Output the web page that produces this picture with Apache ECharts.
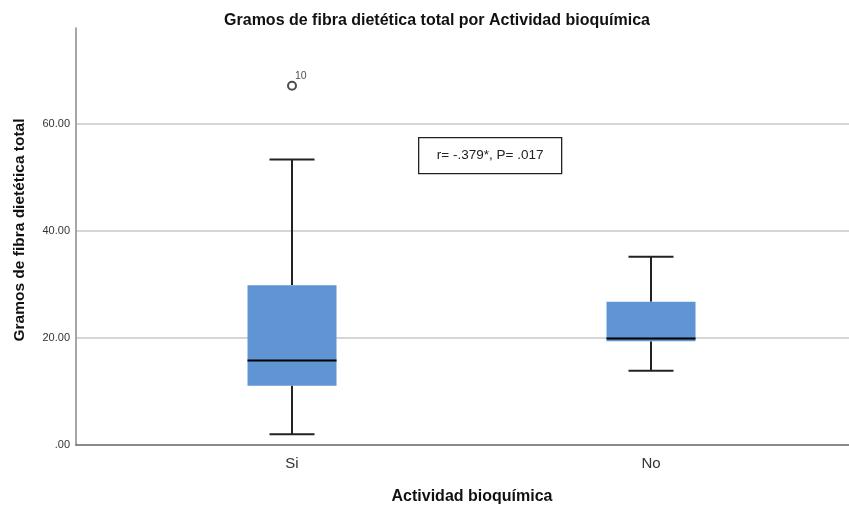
<!DOCTYPE html>
<html><head><meta charset="utf-8">
<script src="https://cdn.jsdelivr.net/npm/echarts@6/dist/echarts.min.js"></script>
<style>html,body{margin:0;padding:0;background:#fff}#c{width:849px;height:505px}</style>
</head><body><div id="c"></div>
<script>
const categories = ['Si', 'No'];
const categoryPos = [1, 2];
// [min whisker, Q1, median, Q3, max whisker]
const siStats = [2.0, 11.1, 15.8, 29.9, 53.4];
const noStats = [13.9, 19.4, 19.9, 26.8, 35.2];
const outliers = [[1, 67.2, '10']];
const yTicks = [0, 20, 40, 60];
const annotation = 'r= -.379*, P= .017';
const yTitle = 'Gramos de fibra dietética total';
const xTitle = 'Actividad bioquímica';
const mainTitle = 'Gramos de fibra dietética total por Actividad bioquímica';

const boxData = [[categoryPos[0]].concat(siStats), [categoryPos[1]].concat(noStats)];

const chart = echarts.init(document.getElementById('c'));
const FONT = 'Liberation Sans, Arial, sans-serif';
chart.setOption({
  animation: false,
  backgroundColor: '#fff',
  title: [
    {text: mainTitle, left: 432, top: 8, textAlign: 'center',
     textStyle: {fontFamily: FONT, fontSize: 16, fontWeight: 'bold', color: '#111'}},
    {text: xTitle, left: 467, top: 484, textAlign: 'center',
     textStyle: {fontFamily: FONT, fontSize: 16, fontWeight: 'bold', color: '#111'}}
  ],
  grid: {left: 76, right: 0, top: 28, bottom: 60},
  xAxis: {
    type: 'value', min: 0.3983, max: 2.5515,
    axisLine: {show: true, onZero: false, lineStyle: {color: '#666', width: 1.5}},
    axisTick: {show: false},
    splitLine: {show: false},
    axisLabel: {customValues: categoryPos, formatter: v => categories[categoryPos.indexOf(v)] || '',
      fontFamily: FONT, fontSize: 15, color: '#333', margin: 11}
  },
  yAxis: {
    type: 'value', min: 0, max: 78, interval: 20,
    axisLine: {show: true, lineStyle: {color: '#888', width: 1.5}},
    axisTick: {show: false},
    axisLabel: {customValues: yTicks, formatter: v => v === 0 ? '.00' : v.toFixed(2),
      fontFamily: FONT, fontSize: 11, color: '#333', margin: 6},
    splitLine: {show: true, showMinLine: false, showMaxLine: false, lineStyle: {color: '#c8c8c8', width: 1.5}}
  },
  series: [
    {
      type: 'custom',
      data: boxData,
      encode: {x: 0, y: [1, 2, 3, 4, 5]},
      renderItem: function (params, api) {
        const x = api.value(0);
        const lo = api.coord([x, api.value(1)]);
        const q1 = api.coord([x, api.value(2)]);
        const md = api.coord([x, api.value(3)]);
        const q3 = api.coord([x, api.value(4)]);
        const hi = api.coord([x, api.value(5)]);
        const bw = 89, cw = 45, cx = lo[0];
        const ls = {stroke: '#222', lineWidth: 2};
        return {type: 'group', children: [
          {type: 'line', shape: {x1: cx, y1: hi[1], x2: cx, y2: q3[1]}, style: ls},
          {type: 'line', shape: {x1: cx, y1: q1[1], x2: cx, y2: lo[1]}, style: ls},
          {type: 'line', shape: {x1: cx - cw / 2, y1: hi[1], x2: cx + cw / 2, y2: hi[1]}, style: ls},
          {type: 'line', shape: {x1: cx - cw / 2, y1: lo[1], x2: cx + cw / 2, y2: lo[1]}, style: ls},
          {type: 'rect', shape: {x: cx - bw / 2, y: q3[1], width: bw, height: q1[1] - q3[1]},
           style: {fill: '#5f95d2', stroke: null}},
          {type: 'line', shape: {x1: cx - bw / 2, y1: md[1], x2: cx + bw / 2, y2: md[1]},
           style: {stroke: '#000', lineWidth: 2}}
        ]};
      },
      z: 3
    },
    {
      type: 'scatter',
      data: outliers.map(o => ({value: [o[0], o[1]], name: o[2]})),
      symbol: 'emptyCircle', symbolSize: 8,
      itemStyle: {color: '#222', borderColor: '#222', borderWidth: 1.3},
      label: {show: true, formatter: p => p.name, position: [8, -10], fontFamily: FONT, fontSize: 10.5, color: '#222'},
      z: 4
    }
  ],
  graphic: [
    {type: 'text', x: 20, y: 230, rotation: Math.PI / 2,
     style: {text: yTitle, fontFamily: FONT, fontSize: 15.5, fontWeight: 'bold', fill: '#111',
       align: 'center', verticalAlign: 'middle'}},
    {type: 'group', left: 418, top: 137, children: [
      {type: 'rect', shape: {x: 0, y: 0, width: 143, height: 36}, style: {fill: '#fff', stroke: '#222', lineWidth: 1.3}},
      {type: 'text', x: 71.5, y: 18, style: {text: annotation, fontFamily: FONT, fontSize: 13.5, fill: '#222',
        align: 'center', verticalAlign: 'middle'}}
    ]}
  ]
});
</script></body></html>
